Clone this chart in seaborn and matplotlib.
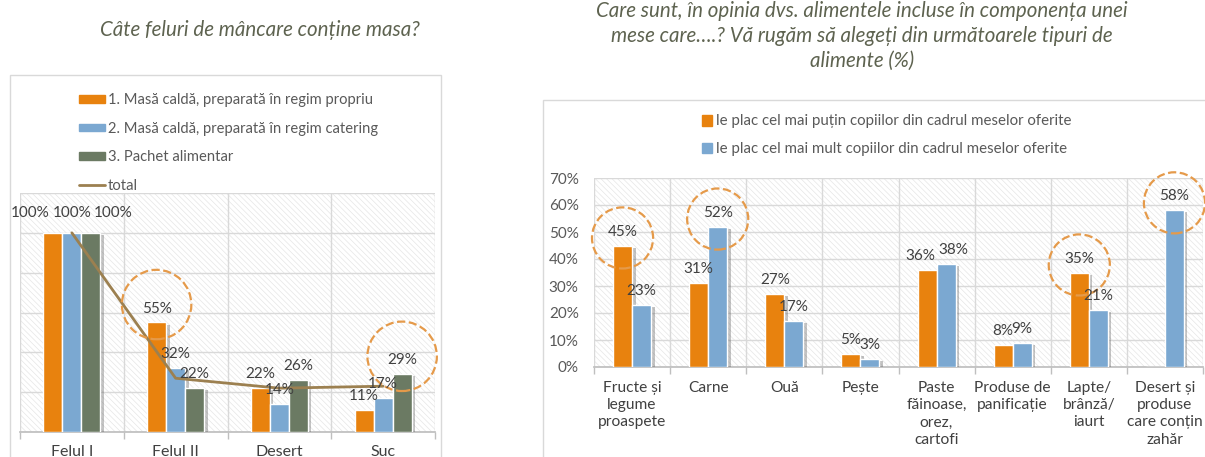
import numpy as np
import pandas as pd
import seaborn as sns
import matplotlib.pyplot as plt
import matplotlib.patheffects as pe
from matplotlib.patches import Rectangle, Patch
from matplotlib.lines import Line2D

# ---- data: left chart ----
meal_cats = ["Felul I", "Felul II", "Desert", "Suc"]
meal_series = ["1. Masă caldă, preparată în regim propriu",
               "2. Masă caldă, preparată în regim catering",
               "3. Pachet alimentar"]
meal_own = [100, 55, 22, 11]
meal_catering = [100, 32, 14, 17]
meal_package = [100, 22, 26, 29]
meal_total = [100, 27, 22, 23]
meal_marked = [(0, 1), (2, 3)]  # (series index, category index) circled

# ---- data: right chart ----
food_cats = ["Fructe și\nlegume\nproaspete", "Carne", "Ouă", "Pește",
             "Paste\nfăinoase,\norez,\ncartofi", "Produse de\npanificație",
             "Lapte/\nbrânză/\niaurt", "Desert și\nproduse\ncare conțin\nzahăr"]
food_series = ["le plac cel mai puțin copiilor din cadrul meselor oferite",
               "le plac cel mai mult copiilor din cadrul meselor oferite"]
food_least = [45, 31, 27, 5, 36, 8, 35, 0]
food_most = [23, 52, 17, 3, 38, 9, 21, 58]
food_marked = [(0, 0), (1, 1), (0, 6), (1, 7)]

ORANGE = "#E8820E"
BLUE = "#7BA8D1"
GREEN = "#6B7A63"
LINE = "#9C8050"
TITLE = "#5E6350"
TEXT = "#404040"
GRID = "#D9D9D9"

sns.set_theme(style="white")
plt.rcParams["font.family"] = ["Lato", "DejaVu Sans"]
plt.rcParams["hatch.color"] = "#E6E6E6"
plt.rcParams["hatch.linewidth"] = 0.5

W, H = 1205, 457
fig = plt.figure(figsize=(W / 100, H / 100), dpi=100)


def px_axes(x0, y0, x1, y1):
    return fig.add_axes([x0 / W, 1 - y1 / H, (x1 - x0) / W, (y1 - y0) / H])


def frame(x0, y0, x1, y1):
    fig.patches.append(Rectangle((x0 / W, 1 - y1 / H), (x1 - x0) / W, (y1 - y0) / H,
                                 transform=fig.transFigure, fill=False,
                                 edgecolor="#D9D9D9", lw=1.0, zorder=0))


def style_axes(ax, n, ymax, step):
    ax.set_xlim(-0.5, n - 0.5)
    ax.set_ylim(0, ymax)
    ax.set_yticks(np.arange(0, ymax + 1, step))
    ax.set_facecolor("white")
    ax.add_patch(Rectangle((0, 0), 1, 1, transform=ax.transAxes, facecolor="white",
                           hatch="\\\\\\\\\\\\", edgecolor="#E6E6E6", lw=0, zorder=0))
    ax.set_xticks(np.arange(-0.5, n, 1), minor=True)
    ax.grid(axis="y", color=GRID, lw=1, zorder=1)
    ax.grid(axis="x", which="minor", color=GRID, lw=1, zorder=1)
    ax.set_axisbelow(True)
    for s in ["top", "right", "left"]:
        ax.spines[s].set_visible(False)
    ax.spines["bottom"].set_color("#BFBFBF")
    ax.tick_params(axis="x", which="minor", length=5, color="#BFBFBF", bottom=True)
    ax.tick_params(axis="x", which="major", length=0)
    ax.set_xlabel("")
    ax.set_ylabel("")


def add_shadows(ax):
    for c in ax.containers:
        for b in c:
            b.set_path_effects([pe.SimplePatchShadow(offset=(2.5, -1.5), alpha=0.35,
                                                     shadow_rgbFace="#555555"), pe.Normal()])


def add_circles(ax, marked, values, width, nser, ymax, r_pt, lift):
    for si, ci in marked:
        x = ci + (si - (nser - 1) / 2) * width / nser
        y = values[si][ci] + ymax * lift
        ax.scatter([x], [y], s=(2 * r_pt) ** 2, facecolors="none", edgecolors="#E59A4A",
                   linestyles="--", linewidths=1.6, zorder=6, clip_on=False)


# ================= left chart =================
frame(10, 75, 441, 470)
fig.text(260 / W, 1 - 30 / H, "Câte feluri de mâncare conține masa?", ha="center", va="center",
         fontsize=14.8, style="italic", color=TITLE)

meal_df = pd.DataFrame({
    "cat": meal_cats * 3,
    "series": np.repeat(meal_series, len(meal_cats)),
    "value": meal_own + meal_catering + meal_package,
})
axL = px_axes(20, 193, 435, 432)
sns.barplot(data=meal_df, x="cat", y="value", hue="series", order=meal_cats,
            hue_order=meal_series, palette=[ORANGE, BLUE, GREEN], width=0.55, gap=0,
            saturation=1, legend=False, ax=axL, zorder=3)
add_shadows(axL)
sns.lineplot(x=np.arange(len(meal_cats)), y=meal_total, color=LINE, lw=2, ax=axL, zorder=5)
style_axes(axL, len(meal_cats), 120, 20)
axL.set_yticklabels([])
axL.tick_params(axis="y", length=0)
axL.set_xticks(range(len(meal_cats)))
axL.set_xticklabels(meal_cats, fontsize=11.5, color=TEXT)
axL.tick_params(axis="x", which="major", pad=9)
for k, c in enumerate(axL.containers):
    txts = axL.bar_label(c, labels=[f"{v:.0f}%" for v in c.datavalues], padding=5,
                         fontsize=11, color=TEXT, zorder=7)
    # spread the overlapping 100% labels
    txts[0].xyann = ((k - 1) * 16, 9)
add_circles(axL, meal_marked, [meal_own, meal_catering, meal_package], 0.55, 3, 120, 25, 0.075)

legL = [Patch(color=ORANGE), Patch(color=BLUE), Patch(color=GREEN),
        Line2D([], [], color=LINE, lw=2)]
fig.legend(legL, meal_series + ["total"], loc="upper left",
           bbox_to_anchor=(66 / W, 1 - 80 / H), frameon=False, fontsize=10.6,
           handlelength=1.75, handleheight=0.42, handletextpad=0.2, labelspacing=0.98,
           labelcolor="#595959")

# ================= right chart =================
frame(543, 100, 1210, 470)
fig.text(862 / W, 1 - 36 / H,
         "Care sunt, în opinia dvs. alimentele incluse în componența unei\n"
         "mese care….? Vă rugăm să alegeți din următoarele tipuri de\n"
         "alimente (%)", ha="center", va="center", fontsize=14.8, style="italic",
         color=TITLE, linespacing=1.32)

food_df = pd.DataFrame({
    "cat": food_cats * 2,
    "series": np.repeat(food_series, len(food_cats)),
    "value": food_least + food_most,
})
axR = px_axes(594, 178, 1203, 367)
sns.barplot(data=food_df, x="cat", y="value", hue="series", order=food_cats,
            hue_order=food_series, palette=[ORANGE, BLUE], width=0.5, gap=0,
            saturation=1, legend=False, ax=axR, zorder=3)
add_shadows(axR)
style_axes(axR, len(food_cats), 70, 10)
axR.set_yticklabels([f"{v}%" for v in range(0, 71, 10)], fontsize=11, color="#595959")
axR.tick_params(axis="y", length=0, pad=11)
axR.set_xticks(range(len(food_cats)))
axR.set_xticklabels(food_cats, fontsize=11.2, color=TEXT, linespacing=1.3, va="top")
axR.tick_params(axis="x", which="major", pad=10)
for k, c in enumerate(axR.containers):
    txts = axR.bar_label(c, labels=[f"{v:.0f}%" if v > 0 else "" for v in c.datavalues],
                         padding=5, fontsize=11, color=TEXT, zorder=7)
    # push apart the two labels of "Paste" that would collide
    txts[4].xyann = ((k * 2 - 1) * 5, 5)
add_circles(axR, food_marked, [food_least, food_most], 0.5, 2, 70, 22, 0.04)

legR = [Patch(color=ORANGE), Patch(color=BLUE)]
fig.legend(legR, food_series, loc="upper left", bbox_to_anchor=(688 / W, 1 - 101 / H),
           frameon=False, fontsize=10.8, handlelength=0.7, handleheight=0.7,
           handletextpad=0.3, labelspacing=0.92, labelcolor="#595959")

fig.savefig("out.png", dpi=100)
